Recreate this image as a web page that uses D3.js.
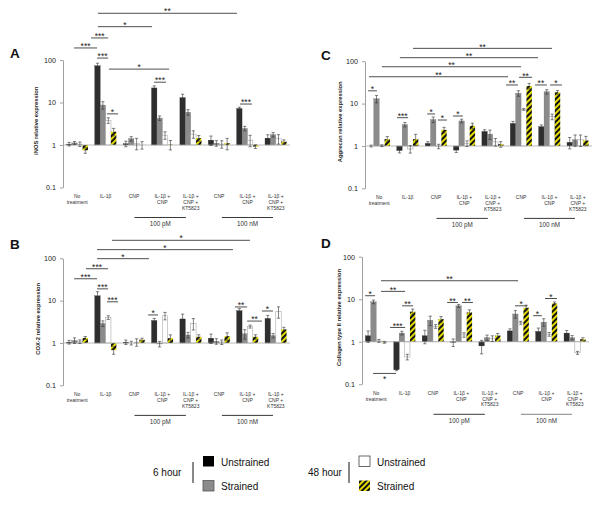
<!DOCTYPE html>
<html><head><meta charset="utf-8">
<script src="https://cdn.jsdelivr.net/npm/d3@7"></script>
<style>body{margin:0;background:#fff}svg{display:block;font-family:"Liberation Sans",Arial,sans-serif}</style>
</head><body><svg id="chart" width="600" height="514"></svg>
<script>
// ---------- DATA ----------
const categories = [["No","treatment"],["IL-1β"],["CNP"],["IL-1β +","CNP"],["IL-1β +","CNP +","KT5823"],["CNP"],["IL-1β +","CNP"],["IL-1β +","CNP +","KT5823"]];
const yTicks = [0.1, 1, 10, 100];
const tickLabels = ["0.1", "1", "10", "100"];
const concLabels = ["100 pM", "100 nM"];
const legendTimes = ["6 hour", "48 hour"];
const legendItems = ["Unstrained", "Strained"];

// Panel A: iNOS
const blackA = [1.05, 73, 1.07, 22, 13, 1.3, 7.2, 1.45];
const greyA  = [1.12, 8.7, 1.4, 4.3, 5.9, 1.1, 2.45, 1.75];
const whiteA = [1.05, 3.8, 1.1, 1.7, 1.8, 1.05, 1.3, 1.4];
const hatchA = [0.75, 2.05, 1.0, 1.02, 1.45, 1.1, 0.92, 1.2];
const errBlackA = [0.1, 0.15, 0.15, 0.12, 0.2, 0.25, 0.08, 0.2];
const errGreyA  = [0.08, 0.2, 0.12, 0.12, 0.15, 0.15, 0.12, 0.12];
const errWhiteA = [0.12, 0.15, 0.3, 0.2, 0.2, 0.2, 0.3, 0.25];
const errHatchA = [0.15, 0.2, 0.2, 0.25, 0.15, 0.3, 0.1, 0.1];
const sigA = [[1.23,6.13,1256,"**"],[1.23,3.14,608,"*"],[0.99,1.59,330,"***"],[0.39,1.2,192,"***"],[1.2,1.59,111,"***"],[1.62,3.74,61,"*"],[3.21,3.63,30,"***"],[6.24,6.66,9.2,"***"],[1.55,1.94,5.4,"*"]];

// Panel B: COX-2
const blackB = [1.05, 13, 1.05, 3.4, 3.7, 1.3, 5.8, 3.8];
const greyB  = [1.15, 2.9, 1.0, 0.95, 1.55, 1.1, 1.65, 1.5];
const whiteB = [1.08, 4.0, 1.05, 4.4, 2.9, 1.05, 2.45, 5.5];
const hatchB = [1.32, 0.68, 1.2, 1.3, 1.4, 1.45, 1.4, 2.1];
const errBlackB = [0.1, 0.25, 0.12, 0.12, 0.3, 0.25, 0.12, 0.18];
const errGreyB  = [0.15, 0.15, 0.1, 0.15, 0.15, 0.15, 0.25, 0.12];
const errWhiteB = [0.1, 0.1, 0.2, 0.2, 0.3, 0.12, 0.08, 0.3];
const errHatchB = [0.08, 0.2, 0.08, 0.2, 0.12, 0.2, 0.12, 0.12];
const sigB = [[1.73,6.59,266,"*"],[1.2,5.99,160,"*"],[1.2,3.03,98,"*"],[0.81,1.59,56.7,"***"],[0.39,1.2,32.9,"***"],[1.2,1.59,19,"***"],[1.55,1.94,9.4,"***"],[3.0,3.35,4.6,"*"],[6.06,6.49,7.1,"**"],[6.49,7.01,3.3,"**"],[7.01,7.4,5.7,"*"]];

// Panel C: Aggrecan
const blackC = [1.0, 0.78, 1.15, 0.8, 2.2, 3.4, 2.85, 1.22];
const greyC  = [13, 3.2, 4.2, 3.9, 1.9, 17.5, 19, 1.4];
const whiteC = [1.02, 0.85, 0.98, 1.15, 1.25, 7.3, 4.9, 1.4];
const hatchC = [1.45, 1.45, 2.4, 3.0, 1.1, 26, 18.5, 1.35];
const errBlackC = [0.05, 0.12, 0.1, 0.12, 0.1, 0.12, 0.1, 0.3];
const errGreyC  = [0.2, 0.12, 0.15, 0.1, 0.25, 0.15, 0.12, 0.3];
const errWhiteC = [0.05, 0.2, 0.12, 0.15, 0.2, 0.05, 0.15, 0.3];
const errHatchC = [0.15, 0.3, 0.15, 0.15, 0.15, 0.15, 0.1, 0.25];
const sigC = [[1.69,6.59,201,"**"],[1.23,6.1,121,"**"],[0.6,5.5,74,"**"],[0.14,5.04,43,"**"],[0.11,0.42,20,"*"],[1.13,1.52,4.65,"***"],[2.19,2.47,5.7,"*"],[2.57,2.89,4.1,"*"],[3.1,3.45,5.1,"*"],[4.97,5.39,27.5,"**"],[5.43,5.89,41.7,"**"],[5.99,6.41,27.5,"**"],[6.52,6.94,27.5,"*"]];

// Panel D: Collagen type II
const blackD = [1.38, 0.22, 1.38, 0.97, 0.8, 1.8, 1.75, 1.6];
const greyD  = [8.7, 1.6, 3.2, 7.0, 1.25, 4.5, 2.9, 1.25];
const whiteD = [1.05, 0.44, 2.3, 1.45, 1.2, 2.8, 1.5, 0.55];
const hatchD = [0.97, 5.1, 3.4, 4.9, 1.4, 6.3, 8.0, 1.15];
const errBlackD = [0.3, 0.05, 0.35, 0.2, 0.35, 0.12, 0.2, 0.15];
const errGreyD  = [0.1, 0.1, 0.25, 0.08, 0.15, 0.2, 0.2, 0.12];
const errWhiteD = [0.08, 0.15, 0.1, 0.12, 0.15, 0.08, 0.1, 0.08];
const errHatchD = [0.05, 0.15, 0.15, 0.15, 0.12, 0.15, 0.08, 0.08];
const sigD = [[0.67,5.5,27.2,"**"],[0.67,1.52,15.3,"**"],[0.11,0.46,12.1,"*"],[0.99,1.52,2.17,"***"],[1.41,1.8,7.0,"**"],[3.0,3.38,8.4,"**"],[3.52,3.91,8.4,"**"],[5.39,5.82,7.0,"*"],[6.03,6.34,4.1,"*"],[6.45,6.87,10.4,"*"],[0.39,1.2,0.18,"*b"]];

// ---------- LAYOUT ----------
const panels = [
  {letter:"A", title:"iNOS relative expression", vals:[blackA,greyA,whiteA,hatchA], errs:[errBlackA,errGreyA,errWhiteA,errHatchA], sig:sigA,
   x0:63, x1:290, yTop:60, yBot:187.5, lx:10, ly:57.5, tx:38, concColor:["#222","#222"]},
  {letter:"B", title:"COX-2 relative expression", vals:[blackB,greyB,whiteB,hatchB], errs:[errBlackB,errGreyB,errWhiteB,errHatchB], sig:sigB,
   x0:63, x1:290, yTop:258.3, yBot:385.4, lx:10, ly:249, tx:40, concColor:["#222","#222"]},
  {letter:"C", title:"Aggrecan relative expression", vals:[blackC,greyC,whiteC,hatchC], errs:[errBlackC,errGreyC,errWhiteC,errHatchC], sig:sigC,
   x0:365, x1:592, yTop:61.2, yBot:188.4, lx:321, ly:59.5, tx:342, concColor:["#222","#222"]},
  {letter:"D", title:"Collagen type II relative expression", vals:[blackD,greyD,whiteD,hatchD], errs:[errBlackD,errGreyD,errWhiteD,errHatchD], sig:sigD,
   x0:362, x1:589, yTop:256.7, yBot:384.3, lx:321, ly:248, tx:341, concColor:["#222","#777"]}
];
const fills = ["#2e2e2e", "#8b8b8b", "#ffffff", "url(#hatch)"];
const strokes = ["#222", "#666", "#9a9a9a", "none"];

const svg = d3.select("#chart");
const defs = svg.append("defs");
const pat = defs.append("pattern").attr("id","hatch").attr("width",4).attr("height",4)
  .attr("patternUnits","userSpaceOnUse").attr("patternTransform","rotate(45)");
pat.append("rect").attr("width",4).attr("height",4).attr("fill","#111");
pat.append("rect").attr("width",1.9).attr("height",4).attr("fill","#eee600");

panels.forEach(P => {
  const g = svg.append("g");
  const y = d3.scaleLog().domain([0.1, 100]).range([P.yBot, P.yTop]);
  const x = d3.scaleBand().domain(d3.range(categories.length)).range([P.x0, P.x1]).paddingInner(0.24).paddingOuter(0.12);
  const xs = d3.scaleBand().domain([0,1,2,3]).range([0, x.bandwidth()]);
  const xp = d3.scaleLinear().domain([0, categories.length]).range([P.x0, P.x1]);

  // axis
  const ax = g.append("g").attr("transform", `translate(${P.x0},0)`)
    .call(d3.axisLeft(y).tickValues(yTicks).tickFormat((d,i)=>tickLabels[i]).tickSize(3).tickSizeOuter(0).tickPadding(4));
  ax.select(".domain").attr("stroke","#888").attr("stroke-width",0.8);
  ax.selectAll(".tick line").attr("stroke","#888").attr("stroke-width",0.8);
  ax.selectAll(".tick text").attr("font-size",7.2).attr("fill","#222").attr("font-family","Liberation Sans, Arial, sans-serif");

  // bars
  P.vals.forEach((arr, s) => {
    g.append("g").selectAll("rect").data(arr).join("rect")
      .attr("x", (d,i) => x(i) + xs(s))
      .attr("width", xs.bandwidth())
      .attr("y", d => Math.min(y(d), y(1)))
      .attr("height", d => Math.abs(y(d) - y(1)))
      .attr("fill", fills[s]).attr("stroke", strokes[s]).attr("stroke-width", s===2?0.5:0.3);
  });
  // baseline at 1
  g.append("line").attr("x1",P.x0).attr("x2",P.x1).attr("y1",y(1)).attr("y2",y(1)).attr("stroke","#aaa").attr("stroke-width",0.8);

  // error bars
  P.vals.forEach((arr, s) => {
    const eg = g.append("g").attr("stroke","#333").attr("stroke-width",0.6);
    arr.forEach((v,i) => {
      const e = P.errs[s][i];
      const cx = x(i) + xs(s) + xs.bandwidth()/2;
      const ylo = y(v*(1-e)), yhi = y(v*(1+e));
      eg.append("line").attr("x1",cx).attr("x2",cx).attr("y1",ylo).attr("y2",yhi);
      eg.append("line").attr("x1",cx-1.6).attr("x2",cx+1.6).attr("y1",ylo).attr("y2",ylo);
      eg.append("line").attr("x1",cx-1.6).attr("x2",cx+1.6).attr("y1",yhi).attr("y2",yhi);
    });
  });

  // significance brackets
  P.sig.forEach(([p1,p2,v,lab]) => {
    const yy = y(v);
    g.append("line").attr("x1",xp(p1)).attr("x2",xp(p2)).attr("y1",yy).attr("y2",yy).attr("stroke","#222").attr("stroke-width",0.8);
    const below = lab.endsWith("b");
    g.append("text").attr("x",(xp(p1)+xp(p2))/2).attr("y", below ? yy+8.5 : yy+1.2)
      .attr("text-anchor","middle").attr("font-size",8.5).attr("fill","#222").text(below ? lab.slice(0,-1) : lab);
  });

  // category labels
  categories.forEach((lines,i) => {
    const t = g.append("text").attr("text-anchor","middle").attr("font-size",5).attr("fill","#333");
    lines.forEach((ln,j) => t.append("tspan").attr("x", x(i)+x.bandwidth()/2).attr("y", P.yBot + 10.5 + j*5.8).text(ln));
  });

  // concentration brackets
  [[2.52,4.33],[5.6,7.4]].forEach(([a,b],k) => {
    g.append("line").attr("x1",xp(a)).attr("x2",xp(b)).attr("y1",P.yBot+30).attr("y2",P.yBot+30).attr("stroke",P.concColor[k]).attr("stroke-width",0.9);
    g.append("text").attr("x",(xp(a)+xp(b))/2).attr("y",P.yBot+38.5).attr("text-anchor","middle").attr("font-size",6.3).attr("fill","#333").text(concLabels[k]);
  });

  // y title
  g.append("text").attr("transform",`translate(${P.tx},${(P.yTop+P.yBot)/2 - 3}) rotate(-90)`)
    .attr("text-anchor","middle").attr("font-size",5.8).attr("font-weight","bold").attr("fill","#222").text(P.title);
  // letter
  g.append("text").attr("x",P.lx).attr("y",P.ly).attr("font-size",13.5).attr("font-weight","bold").attr("fill","#111").text(P.letter);
});

// ---------- LEGEND ----------
const leg = svg.append("g").attr("font-size",10).attr("fill","#111");
const legX = [{tx:153, vx:193, sx:203, lx:221}, {tx:308, vx:349, sx:359, lx:377}];
legX.forEach((L,k) => {
  leg.append("text").attr("x",L.tx).attr("y",475.5).text(legendTimes[k]);
  leg.append("line").attr("x1",L.vx).attr("x2",L.vx).attr("y1",462).attr("y2",483).attr("stroke","#111").attr("stroke-width",1);
  legendItems.forEach((it,j) => {
    const s = k*2 + j;
    leg.append("rect").attr("x",L.sx).attr("y",456 + j*24.5).attr("width",11).attr("height",10.5)
      .attr("fill", s===0 ? "#000" : fills[s]).attr("stroke", s===1 ? "#555" : s===2 ? "#444" : "none").attr("stroke-width",0.8);
    leg.append("text").attr("x",L.lx).attr("y",465.5 + j*24.5).text(it);
  });
});
</script></body></html>
